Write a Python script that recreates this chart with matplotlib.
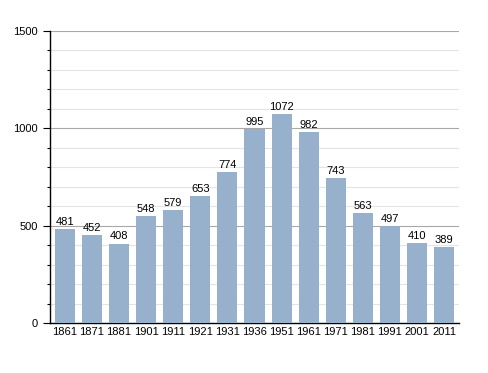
import matplotlib
matplotlib.use('Agg')
import matplotlib.pyplot as plt
import numpy as np
from matplotlib.ticker import MultipleLocator

plt.rcParams['font.family'] = ['Liberation Sans', 'DejaVu Sans']

years = ['1861', '1871', '1881', '1901', '1911', '1921', '1931', '1936',
         '1951', '1961', '1971', '1981', '1991', '2001', '2011']
population = [481, 452, 408, 548, 579, 653, 774, 995, 1072, 982, 743, 563, 497, 410, 389]

fig = plt.figure(figsize=(4.88, 3.73), dpi=100)
ax = fig.add_axes([50 / 488, 50 / 373, 409 / 488, 292 / 373])

x = np.arange(len(years))
ax.bar(x, population, width=0.74, color='#97b0cc', zorder=3)

for xi, v in zip(x, population):
    ax.text(xi, v + 12, str(v), ha='center', va='bottom', fontsize=8, zorder=4)

ax.set_xlim(-0.55, len(years) - 0.45)
ax.set_ylim(0, 1500)
ax.yaxis.set_major_locator(MultipleLocator(500))
ax.yaxis.set_minor_locator(MultipleLocator(100))
ax.grid(which='major', axis='y', color='#a8a8a8', linewidth=0.8, zorder=1)
ax.grid(which='minor', axis='y', color='#e4e4e4', linewidth=0.8, zorder=0)

ax.set_xticks(x)
ax.set_xticklabels(years)
ax.tick_params(axis='x', length=0, labelsize=8, pad=3)
ax.tick_params(axis='y', which='major', length=5, width=0.8, labelsize=8, pad=4)
ax.tick_params(axis='y', which='minor', length=2.5, width=0.8)

for s in ['top', 'right']:
    ax.spines[s].set_visible(False)
ax.spines['left'].set_linewidth(1.0)
ax.spines['bottom'].set_linewidth(1.0)

fig.savefig('out.png', dpi=100)
